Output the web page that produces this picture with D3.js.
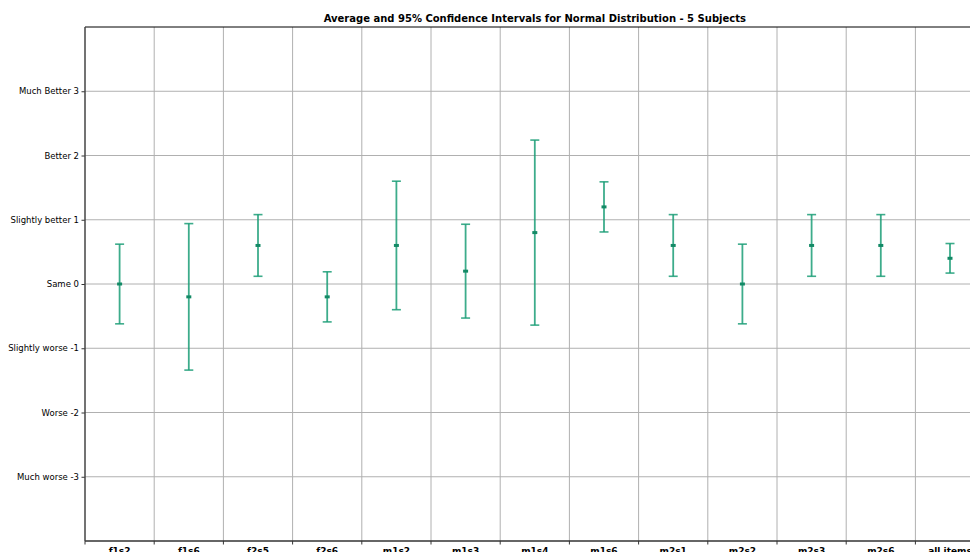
<!DOCTYPE html>
<html>
<head>
<meta charset="utf-8">
<script src="https://cdn.jsdelivr.net/npm/d3@7"></script>
<style>
  html, body { margin: 0; padding: 0; background: #fff; overflow: hidden; }
  svg { display: block; font-family: "DejaVu Sans", sans-serif; }
</style>
</head>
<body>
<svg id="chart" width="970" height="552"></svg>
<script>
// Items compared, their mean rating and the half-width of the 95% interval
const categories = ["f1s2", "f1s6", "f2s5", "f2s6", "m1s2", "m1s3", "m1s4", "m1s6", "m2s1", "m2s2", "m2s3", "m2s6", "all items"];
const means      = [0, -0.2, 0.6, -0.2, 0.6, 0.2, 0.8, 1.2, 0.6, 0, 0.6, 0.6, 0.4];
const halfWidths = [0.62, 1.14, 0.48, 0.39, 1.0, 0.73, 1.44, 0.39, 0.48, 0.62, 0.48, 0.48, 0.23];

// Rating scale shown on the y axis
const yTickValues = [-3, -2, -1, 0, 1, 2, 3];
const yTickLabels = ["Much worse -3", "Worse -2", "Slightly worse -1", "Same 0", "Slightly better 1", "Better 2", "Much Better 3"];

const title = "Average and 95% Confidence Intervals for Normal Distribution - 5 Subjects";

const svg = d3.select("#chart");
const margin = { left: 85, top: 27, bottom: 11 };
const bandW = 69.2;
const plotW = bandW * categories.length;
const plotH = 552 - margin.top - margin.bottom;

const x = d3.scaleBand().domain(categories).range([0, plotW]).paddingInner(0).paddingOuter(0);
const y = d3.scaleLinear().domain([-4, 4]).range([plotH, 0]);

const g = svg.append("g").attr("transform", `translate(${margin.left},${margin.top})`);

// Horizontal grid at every rating level
g.append("g").selectAll("line").data(yTickValues).join("line")
  .attr("x1", 0).attr("x2", plotW)
  .attr("y1", d => y(d)).attr("y2", d => y(d))
  .attr("stroke", "#b0b0b0").attr("stroke-width", 1);

// Vertical grid at category boundaries
const boundaries = categories.slice(1).map(c => x(c));
g.append("g").selectAll("line").data(boundaries).join("line")
  .attr("x1", d => d).attr("x2", d => d)
  .attr("y1", 0).attr("y2", plotH)
  .attr("stroke", "#b0b0b0").attr("stroke-width", 1);

// Y axis with descriptive labels
const yAxis = d3.axisLeft(y).tickValues(yTickValues)
  .tickFormat((d, i) => yTickLabels[i]).tickSize(3.5).tickPadding(2.5);
const yg = g.append("g").call(yAxis);
yg.select(".domain").remove();
yg.selectAll(".tick line").attr("stroke", "#000").attr("stroke-width", 0.8);
yg.selectAll(".tick text").attr("font-size", 8.5).attr("fill", "#000")
  .attr("font-family", "DejaVu Sans, sans-serif");

// X axis: ticks at band edges, labels at band centres
const xg = g.append("g").attr("transform", `translate(0,${plotH})`);
xg.selectAll("line").data([0, ...boundaries, plotW]).join("line")
  .attr("x1", d => d).attr("x2", d => d).attr("y1", 0).attr("y2", 3.5)
  .attr("stroke", "#000").attr("stroke-width", 0.8);
xg.selectAll("text").data(categories).join("text")
  .attr("x", d => x(d) + x.bandwidth() / 2)
  .attr("y", 12.5)
  .attr("text-anchor", "middle")
  .attr("font-size", 9).attr("font-weight", "bold").attr("fill", "#000")
  .attr("font-family", "DejaVu Sans, sans-serif")
  .text(d => d);

// Frame
g.append("line").attr("x1", 0).attr("x2", plotW).attr("y1", 0).attr("y2", 0)
  .attr("stroke", "#000").attr("stroke-width", 1);
g.append("line").attr("x1", 0).attr("x2", plotW).attr("y1", plotH).attr("y2", plotH)
  .attr("stroke", "#333").attr("stroke-width", 1.5);
g.append("line").attr("x1", 0).attr("x2", 0).attr("y1", 0).attr("y2", plotH)
  .attr("stroke", "#444").attr("stroke-width", 1.5);

// Error bars
const color = "#1b9e77";
const capW = 9;
const bars = g.append("g").selectAll("g").data(categories).join("g")
  .attr("transform", d => `translate(${x(d) + x.bandwidth() / 2},0)`);

bars.append("line")
  .attr("y1", (d, i) => y(means[i] + halfWidths[i]))
  .attr("y2", (d, i) => y(means[i] - halfWidths[i]))
  .attr("stroke", color).attr("stroke-opacity", 0.85).attr("stroke-width", 1.8);

[1, -1].forEach(s => {
  bars.append("line")
    .attr("x1", -capW / 2).attr("x2", capW / 2)
    .attr("y1", (d, i) => y(means[i] + s * halfWidths[i]))
    .attr("y2", (d, i) => y(means[i] + s * halfWidths[i]))
    .attr("stroke", color).attr("stroke-opacity", 0.85).attr("stroke-width", 1.6);
});

// Mean markers
bars.append("line")
  .attr("x1", -2.5).attr("x2", 2.5)
  .attr("y1", (d, i) => y(means[i])).attr("y2", (d, i) => y(means[i]))
  .attr("stroke", "#138a66").attr("stroke-width", 3);

// Title
svg.append("text")
  .attr("x", margin.left + plotW / 2).attr("y", 22)
  .attr("text-anchor", "middle")
  .attr("font-size", 10).attr("font-weight", "bold").attr("fill", "#000")
  .attr("font-family", "DejaVu Sans, sans-serif")
  .text(title);
</script>
</body>
</html>
